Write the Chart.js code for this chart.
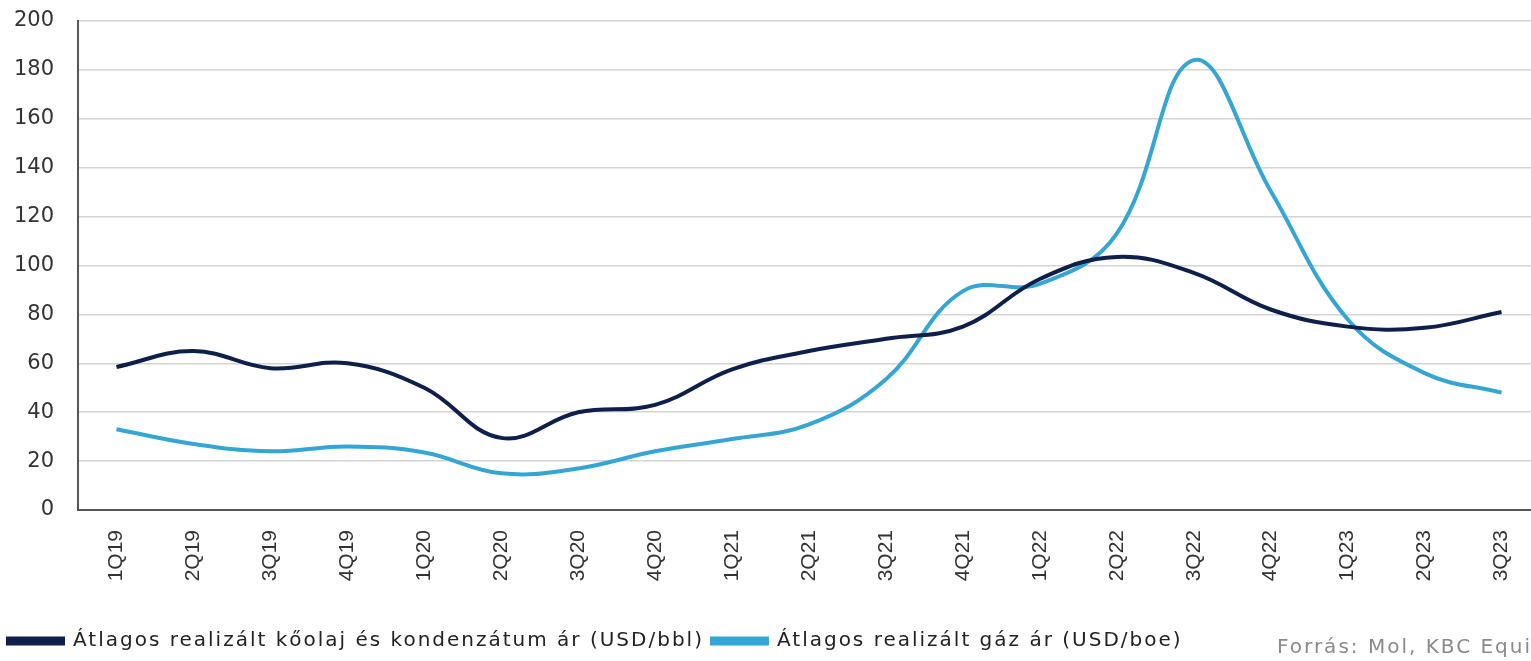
<!DOCTYPE html>
<html>
<head>
<meta charset="utf-8">
<script src="https://cdn.jsdelivr.net/npm/chart.js@4/dist/chart.umd.min.js"></script>
<style>
    html, body { margin: 0; padding: 0; background: #fff; overflow: hidden; }
    #wrap { position: relative; width: 1540px; height: 661px; }
</style>
</head>
<body>
<div id="wrap"><canvas id="chart"></canvas></div>
<script>
// Negyedévek
const negyedevek = ['1Q19', '2Q19', '3Q19', '4Q19', '1Q20', '2Q20', '3Q20', '4Q20', '1Q21', '2Q21',
    '3Q21', '4Q21', '1Q22', '2Q22', '3Q22', '4Q22', '1Q23', '2Q23', '3Q23'];

// Átlagos realizált kőolaj és kondenzátum ár (USD/bbl)
const olajAr = [58.5, 65, 58, 60, 50, 29.5, 40, 43, 57.5, 65, 70, 75, 94.5, 103.5, 97, 82, 75, 74.5, 81];

// Átlagos realizált gáz ár (USD/boe)
const gazAr = [33, 27, 24, 26, 23.5, 15, 17, 24, 29, 35, 53.5, 89.5, 92.5, 113, 184, 130.5, 78, 56, 48];

const yTicks = [0, 20, 40, 60, 80, 100, 120, 140, 160, 180, 200];

// A jelmagyarázat betűközének növelése
const betukozPlugin = {
    id: 'betukoz',
    afterInit(chart) {
        const lg = chart.legend;
        if (!lg) return;
        const eredetiFit = lg.fit.bind(lg);
        const eredetiDraw = lg.draw.bind(lg);
        lg.fit = function () {
            chart.ctx.letterSpacing = '2px';
            eredetiFit();
            chart.ctx.letterSpacing = '0px';
        };
        lg.draw = function () {
            chart.ctx.letterSpacing = '2px';
            eredetiDraw();
            chart.ctx.letterSpacing = '0px';
        };
    }
};

const forrasPlugin = {
    id: 'forras',
    afterDraw(chart) {
        const ctx = chart.ctx;
        ctx.save();
        ctx.letterSpacing = '2px';
        ctx.font = '20px "DejaVu Sans", sans-serif';
        ctx.fillStyle = '#8a8a8a';
        ctx.textBaseline = 'middle';
        ctx.fillText('Forrás: Mol, KBC Equities', 1277, 648);
        ctx.letterSpacing = '0px';
        ctx.restore();
    }
};

const ctx = document.getElementById('chart').getContext('2d');
new Chart(ctx, {
    type: 'line',
    data: {
        labels: negyedevek,
        datasets: [
            {
                label: 'Átlagos realizált kőolaj és kondenzátum ár (USD/bbl)',
                data: olajAr,
                borderColor: '#0f1f4b',
                backgroundColor: '#0f1f4b',
                borderWidth: 4,
                tension: 0.4,
                pointRadius: 0,
                fill: false
            },
            {
                label: 'Átlagos realizált gáz ár (USD/boe)',
                data: gazAr,
                borderColor: '#35a6d4',
                backgroundColor: '#35a6d4',
                borderWidth: 4,
                tension: 0.4,
                pointRadius: 0,
                fill: false
            }
        ]
    },
    options: {
        responsive: true,
        maintainAspectRatio: false,
        animation: false,
        layout: { padding: { top: 21, left: 0, right: 0, bottom: 0 } },
        plugins: {
            tooltip: { enabled: false },
            legend: {
                position: 'bottom',
                align: 'start',
                labels: {
                    boxWidth: 55,
                    boxHeight: 5,
                    padding: 8,
                    color: '#222',
                    font: { family: '"DejaVu Sans", sans-serif', size: 20 }
                }
            }
        },
        scales: {
            x: {
                offset: true,
                grid: { display: false, drawTicks: false },
                border: { display: true, color: '#555', width: 2 },
                ticks: {
                    maxRotation: 90,
                    minRotation: 90,
                    autoSkip: false,
                    padding: 20,
                    color: '#333',
                    font: { family: '"Liberation Sans", Arial, sans-serif', size: 21 }
                },
                afterFit(scale) {
                    scale.height = 113;
                    scale.paddingLeft = 0;
                    scale.paddingRight = 0;
                }
            },
            y: {
                min: 0,
                max: 200,
                afterBuildTicks(scale) { scale.ticks = yTicks.map(v => ({ value: v })); },
                grid: { color: '#d4d4d4', lineWidth: 1.5, drawTicks: false },
                border: { display: true, color: '#555', width: 2 },
                ticks: {
                    padding: 24,
                    color: '#333',
                    font: { family: '"DejaVu Sans", sans-serif', size: 21 }
                },
                afterFit(scale) {
                    scale.width = 78;
                    scale.paddingTop = 0;
                    scale.paddingBottom = 0;
                }
            }
        }
    },
    plugins: [betukozPlugin, forrasPlugin]
});
</script>
</body>
</html>
